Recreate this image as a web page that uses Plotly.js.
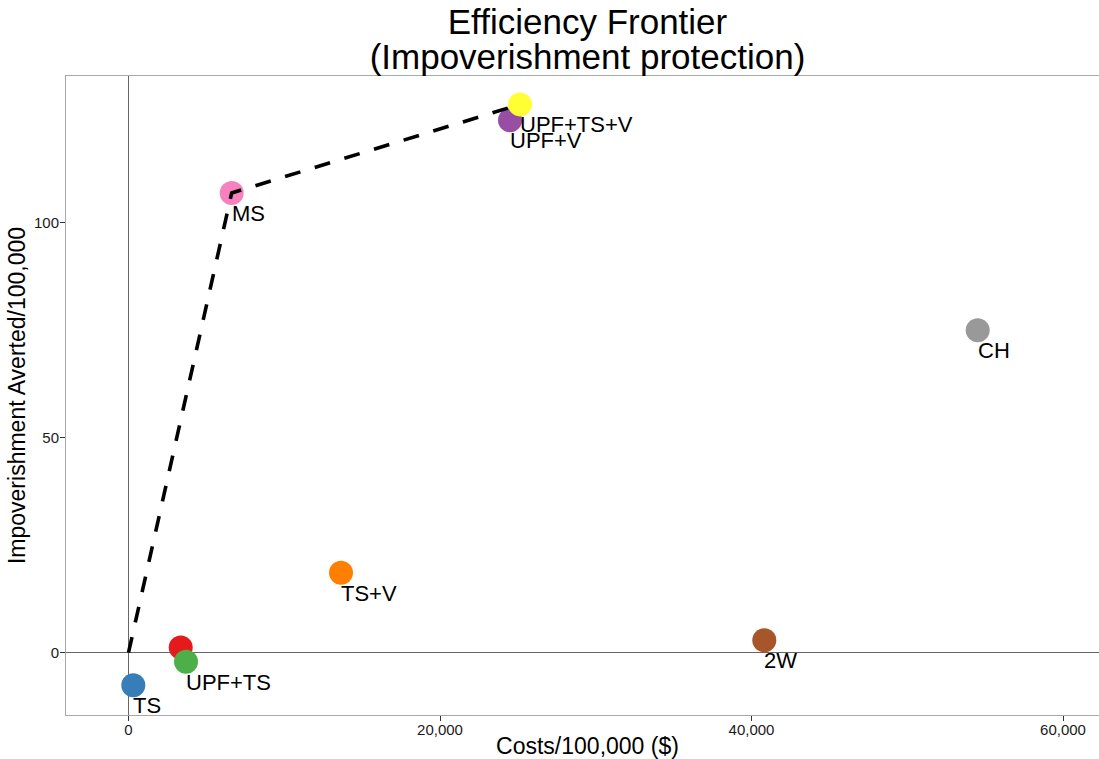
<!DOCTYPE html>
<html>
<head>
<meta charset="utf-8">
<script src="https://cdn.plot.ly/plotly-3.0.1.min.js"></script>
<style>
  html, body { margin: 0; padding: 0; overflow: hidden; background: #fff; }
  #chart { width: 1110px; height: 759px; }
</style>
</head>
<body>
<div id="chart"></div>
<script>
// ---- data ----
var strategies = ['TS', 'UPF', 'UPF+TS', 'MS', 'TS+V', 'UPF+V', 'UPF+TS+V', '2W', 'CH'];
var labels     = ['TS', '',    'UPF+TS', 'MS', 'TS+V', 'UPF+V', 'UPF+TS+V', '2W', 'CH'];
var costs      = [308, 3352, 3692, 6626, 13644, 24494, 25136, 40822, 54523];
var averted    = [-7.6, 1.2, -2.1, 106.9, 18.6, 123.8, 127.5, 2.9, 75.0];
var colors     = ['#377EB8', '#E41A1C', '#4DAF4A', '#F781BF', '#FF7F00', '#984EA3', '#FFFF33', '#A65628', '#999999'];
// frontier: origin, then these strategies
var frontierStrategies = ['MS', 'UPF+TS+V'];
var xTicks = [0, 20000, 40000, 60000];
var yTicks = [0, 50, 100];

var frontierX = [0], frontierY = [0];
frontierStrategies.forEach(function (s) {
  var i = strategies.indexOf(s);
  frontierX.push(costs[i]);
  frontierY.push(averted[i]);
});

var FONT = 'Liberation Sans, Arial, Helvetica, sans-serif';

var points = {
  type: 'scatter', mode: 'markers',
  x: costs, y: averted, text: strategies,
  marker: { size: 24, color: colors, opacity: 1, line: { width: 0 } },
  hoverinfo: 'text+x+y', showlegend: false
};
var frontier = {
  type: 'scatter', mode: 'lines',
  x: frontierX, y: frontierY,
  line: { color: '#000000', width: 3.6, dash: '16px,15px' },
  hoverinfo: 'skip', showlegend: false
};

var annotations = [];
for (var i = 0; i < strategies.length; i++) {
  if (!labels[i]) continue;
  annotations.push({
    x: costs[i], y: averted[i], xref: 'x', yref: 'y',
    text: labels[i], showarrow: false,
    xanchor: 'left', yanchor: 'top', align: 'left',
    xshift: -2, yshift: -6,
    font: { family: FONT, size: 22, color: '#000000' }
  });
}

var layout = {
  width: 1110, height: 759,
  margin: { l: 66, r: 1, t: 76, b: 44, pad: 0 },
  paper_bgcolor: '#ffffff', plot_bgcolor: '#ffffff',
  font: { family: FONT, color: '#000000' },
  title: {
    text: '<span style="font-size:35px">Efficiency Frontier</span><br><span style="font-size:35px">(Impoverishment protection)</span>',
    font: { family: FONT, size: 27, color: '#000000' },
    xref: 'paper', x: 0.5, xanchor: 'center',
    yref: 'container', y: 0.955, yanchor: 'top', pad: { t: 0, b: 0 }
  },
  xaxis: {
    range: [-4013, 62953],
    tickvals: xTicks, tickformat: ',d',
    ticks: 'outside', ticklen: 5, tickwidth: 1, tickcolor: '#333333',
    ticklabelstandoff: -4,
    tickfont: { family: FONT, size: 15, color: '#1a1a1a' },
    showgrid: false,
    zeroline: true, zerolinecolor: '#666666', zerolinewidth: 1.2,
    showline: true, linecolor: '#a8a8a8', linewidth: 1, mirror: true,
    title: { text: 'Costs/100,000 ($)', font: { family: FONT, size: 23, color: '#000000' }, standoff: 12 },
    automargin: false
  },
  yaxis: {
    range: [-14.5, 134.1],
    tickvals: yTicks,
    ticks: 'outside', ticklen: 5, tickwidth: 1, tickcolor: '#333333',
    ticklabelstandoff: -2,
    tickfont: { family: FONT, size: 15, color: '#1a1a1a' },
    showgrid: false,
    zeroline: true, zerolinecolor: '#666666', zerolinewidth: 1.2,
    showline: true, linecolor: '#a8a8a8', linewidth: 1, mirror: false,
    title: { text: 'Impoverishment Averted/100,000', font: { family: FONT, size: 23, color: '#000000' }, standoff: 1 },
    automargin: true
  },
  annotations: annotations,
  showlegend: false
};

Plotly.newPlot('chart', [points, frontier], layout, { displayModeBar: false, staticPlot: true });
</script>
</body>
</html>
